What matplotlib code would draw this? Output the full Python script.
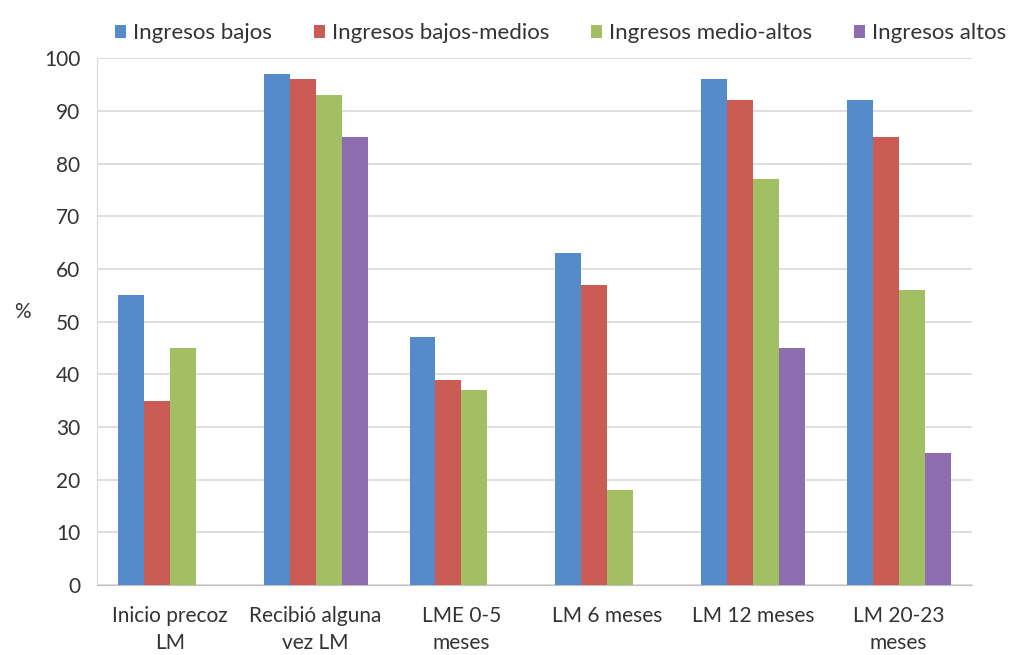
import matplotlib.pyplot as plt
import numpy as np

categories = ["Inicio precoz\nLM", "Recibió alguna\nvez LM", "LME 0-5\nmeses",
              "LM 6 meses", "LM 12 meses", "LM 20-23\nmeses"]
series_names = ["Ingresos bajos", "Ingresos bajos-medios",
                "Ingresos medio-altos", "Ingresos altos"]
bajos = [55, 97, 47, 63, 96, 92]
bajos_medios = [35, 96, 39, 57, 92, 85]
medio_altos = [45, 93, 37, 18, 77, 56]
altos = [np.nan, 85, np.nan, np.nan, 45, 25]
colors = ["#558ACB", "#CB5B55", "#A2C063", "#8D6DAE"]

plt.rcParams['font.family'] = ['Lato', 'DejaVu Sans']

fig = plt.figure(figsize=(10.1, 6.55), dpi=100)
ax = fig.add_axes([0.096, 0.107, 0.866, 0.804])

x = np.arange(len(categories))
width = 0.178
for i, (vals, name, c) in enumerate(zip([bajos, bajos_medios, medio_altos, altos],
                                        series_names, colors)):
    ax.bar(x + (i - 1.5) * width, vals, width, color=c, label=name, zorder=3)

ax.set_xlim(-0.5, len(categories) - 0.5)
ax.set_ylim(0, 100)
ax.set_yticks(range(0, 101, 10))
ax.set_xticks(x)
ax.set_xticklabels(categories, fontsize=15, color="#333333", linespacing=1.45)
ax.tick_params(axis='y', labelsize=15, colors="#333333", length=0, pad=12)
ax.tick_params(axis='x', length=0, pad=15)
ax.grid(axis='y', color="#d9d9d9", linewidth=1.2, zorder=0)
for s in ['top', 'right']:
    ax.spines[s].set_visible(False)
ax.spines['left'].set_color("#d9d9d9")
ax.spines['bottom'].set_color("#bfbfbf")
ax.set_ylabel("%", fontsize=15, rotation=0, color="#333333")
ax.yaxis.set_label_coords(-0.085, 0.5)

fig.legend(loc='upper center', bbox_to_anchor=(0.555, 0.995), ncol=4, frameon=False,
           fontsize=16, handlelength=0.5, handleheight=0.5, handletextpad=0.3,
           columnspacing=1.9, labelcolor="#333333")

fig.savefig("out.png", dpi=100)
